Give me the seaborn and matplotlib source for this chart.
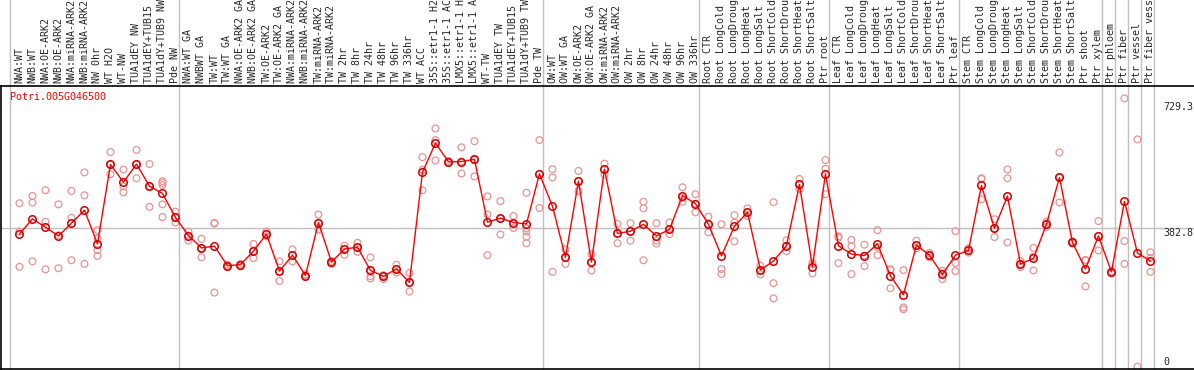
import matplotlib
matplotlib.use('Agg')
import matplotlib.pyplot as plt
import seaborn as sns
import pandas as pd

# sample names (header labels)
samples = [
    'NWA:WT', 'NWB:WT', 'NWA:OE-ARK2', 'NWB:OE-ARK2', 'NWA:miRNA-ARK2', 'NWB:miRNA-ARK2',
    'NW 0hr', 'WT H2O', 'WT-NW', 'TUA1dEY NW', 'TUA1dEY+TUB15 NW', 'TUA1dY+TUB9 NW', 'Pde NW',
    'NWA:WT GA', 'NWBWT GA', 'TW:WT', 'TW:WT GA', 'NWA:OE-ARK2 GA', 'NWB:OE-ARK2 GA',
    'TW:OE-ARK2', 'TW:OE-ARK2 GA', 'NWA:miRNA-ARK2 GA', 'NWB:miRNA-ARK2 GA', 'TW:miRNA-ARK2',
    'TW:miRNA-ARK2 GA', 'TW 2hr', 'TW 8hr', 'TW 24hr', 'TW 48hr', 'TW 96hr', 'TW 336hr',
    'WT ACC', '35S::etr1-1 H2O', '35S::etr1-1 ACC', 'LMX5::etr1-1 H2O', 'LMX5::etr1-1 ACC',
    'WT-TW', 'TUA1dEY TW', 'TUA1dEY+TUB15 TW', 'TUA1dY+TUB9 TW', 'Pde TW',
    'OW:WT', 'OW:WT GA', 'OW:OE-ARK2', 'OW:OE-ARK2 GA', 'OW:miRNA-ARK2', 'OW:miRNA-ARK2 GA',
    'OW 2hr', 'OW 8hr', 'OW 24hr', 'OW 48hr', 'OW 96hr', 'OW 336hr',
    'Root CTR', 'Root LongCold', 'Root LongDrought', 'Root LongHeat', 'Root LongSalt',
    'Root ShortCold', 'Root ShortDrought', 'Root ShortHeat', 'Root ShortSalt', 'Ptr root',
    'Leaf CTR', 'Leaf LongCold', 'Leaf LongDrought', 'Leaf LongHeat', 'Leaf LongSalt',
    'Leaf ShortCold', 'Leaf ShortDrought', 'Leaf ShortHeat', 'Leaf ShortSalt', 'Ptr leaf',
    'Stem CTR', 'Stem LongCold', 'Stem LongDrought', 'Stem LongHeat', 'Stem LongSalt',
    'Stem ShortCold', 'Stem ShortDrought', 'Stem ShortHeat', 'Stem ShortSalt', 'Ptr shoot',
    'Ptr xylem', 'Ptr phloem', 'Ptr fiber', 'Ptr vessel', 'Ptr fiber vessel',
]

# mean expression per sample
mean_vals = [
    366, 408, 385, 361, 396, 432, 339, 558, 509, 559, 498, 478, 412,
    362, 328, 333, 279, 282, 319, 366, 264, 308, 252, 398, 289, 325, 330, 266, 250, 270, 233,
    536, 617, 565, 566, 572, 399, 410, 398, 394, 532,
    443, 302, 512, 289, 545, 368, 374, 393, 361, 379, 472, 450,
    393, 306, 388, 426, 267, 292, 334, 503, 276, 532,
    334, 311, 307, 339, 251, 199, 336, 308, 255, 308,
    321, 500, 382, 471, 284, 299, 393, 522, 343, 270, 361,
    262, 456, 314, 292,
]

# replicate values per sample
rep_vals = [
    [451, 373, 276], [471, 453, 291], [487, 400, 269], [448, 363, 272], [485, 411, 294],
    [536, 473, 284], [377, 354, 322, 306], [592, 558, 531], [544, 497, 481], [598, 559, 520],
    [559, 498, 441], [512, 507, 501, 448, 413], [428, 412, 398],
    [373, 362, 348], [353, 328, 302], [397, 395, 205], [282, 279, 275], [284, 282, 277],
    [339, 319, 300], [373, 366, 360], [291, 264, 237], [324, 308, 291], [255, 252, 249],
    [420, 398, 379], [292, 289, 284], [334, 325, 309], [342, 330, 317], [302, 266, 244, 250],
    [253, 250, 242], [282, 270, 260], [259, 233, 208], [578, 543, 487], [657, 625, 569],
    [568, 565, 562], [605, 566, 533], [622, 570, 525], [470, 420, 308], [457, 408, 365],
    [416, 395, 383], [480, 382, 373, 359, 341], [625, 532, 438],
    [545, 522, 262], [324, 302, 284], [540, 512, 485], [311, 289, 266], [560, 545, 530],
    [394, 368, 341], [396, 374, 348], [455, 437, 294], [396, 348, 340], [398, 379, 366],
    [495, 466, 455], [476, 450, 426],
    [414, 393, 371], [393, 270, 256], [418, 398, 346], [437, 426, 416], [279, 267, 255],
    [454, 231, 189], [349, 334, 319], [518, 503, 490], [287, 282, 258], [570, 546, 476],
    [360, 356, 286], [350, 333, 256], [337, 307, 278], [377, 331, 308], [267, 269, 217],
    [267, 164, 159], [348, 336, 327], [314, 308, 302], [265, 258, 242], [374, 286, 264],
    [327, 321, 315], [520, 518, 462], [407, 382, 358], [544, 520, 343], [292, 284, 275],
    [328, 304, 266], [400, 393, 386], [591, 522, 453], [346, 343, 340], [295, 293, 222],
    [402, 361, 321],
    [264, 262, 258], [740, 347, 284], [627, 1], [316, 300, 262],
]

# last sample of each group
group_ends = [-1, 12, 40, 52, 62, 72, 83, 84, 85, 86, 87]
ref_ticks = [729.3, 382.8, 0]
gene = 'Potri.005G046500'

mean_df = pd.DataFrame({'pos': range(len(samples)), 'value': mean_vals})
rep_df = pd.DataFrame(
    [(i, v) for i, reps in enumerate(rep_vals) for v in reps], columns=['pos', 'value'])

sns.set_style('white')
plt.rcParams['font.family'] = ['DejaVu Sans Mono']

fig = plt.figure(figsize=(11.94, 3.70), dpi=100)
ax = fig.add_axes([1 / 1194, 1 / 370, 1193 / 1194, 283 / 370])

for e in group_ends:
    ax.axvline(e + 0.3, ymin=0, ymax=1.31, color='#c0c0c0', lw=1, clip_on=False, zorder=0)
ax.axhline(ref_ticks[1], color='#c0c0c0', lw=1, zorder=0)

sns.scatterplot(data=rep_df, x='pos', y='value', ax=ax, marker='o', s=24,
                color='#e89494', facecolor='none', edgecolor='#e89494', linewidth=0.9,
                zorder=2)
sns.lineplot(data=mean_df, x='pos', y='value', ax=ax, color='red', lw=1,
             marker='o', markersize=5.4, markerfacecolor='none',
             markeredgecolor='#d00000', markeredgewidth=1.1, errorbar=None, zorder=3)

ax.set_xlim(-1.42, 90.35)
ax.set_ylim(-5.5, 774)

ax.xaxis.set_ticks_position('top')
ax.set_xticks(range(len(samples)))
ax.set_xticklabels(samples, rotation=90, fontsize=7.2)
ax.tick_params(axis='x', length=0, pad=2)
ax.set_yticks([])
ax.set_xlabel('')
ax.set_ylabel('')

for side in ['left', 'top', 'bottom']:
    ax.spines[side].set_color('black')
    ax.spines[side].set_linewidth(1.2)
ax.spines['right'].set_visible(False)

for v in ref_ticks:
    ax.text(87.96, v, f'{v:g}', fontsize=7.2, ha='left',
            va='bottom' if v == 0 else 'top')

ax.text(0.0075, 0.961, gene, transform=ax.transAxes, color='red', fontsize=7.2,
        ha='left', va='center')

fig.savefig('out.png', dpi=100, facecolor='white')
